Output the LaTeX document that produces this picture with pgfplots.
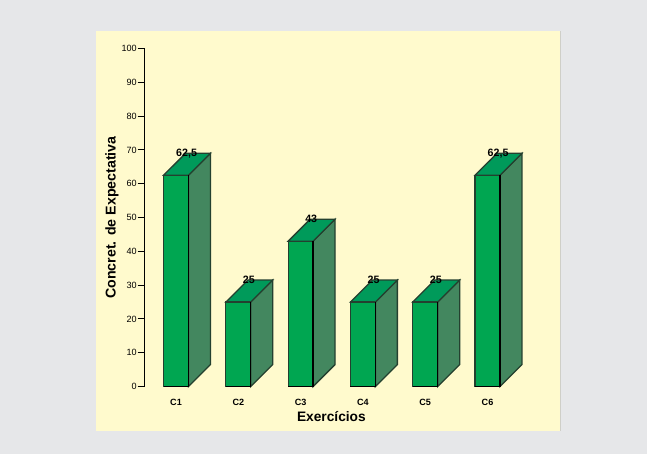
\documentclass[border=0pt]{standalone}
\usepackage{pgfplots}
\pgfplotsset{compat=1.18}
\usepackage{fontspec}
\setmainfont{Liberation Sans}
\definecolor{pagegray}{HTML}{E6E7E9}
\definecolor{panelyellow}{HTML}{FFFACD}
\definecolor{paneledge}{HTML}{CFCFC8}
\definecolor{frontgreen}{HTML}{00A651}
\definecolor{topgreen}{HTML}{009A5A}
\definecolor{sidegreen}{HTML}{43875F}
\definecolor{edgegreen}{HTML}{24402F}
% one prism: left, right, back right, back left, height, back height
\newcommand{\prism}[6]{%
  \addplot[draw=edgegreen,line width=0.95pt,fill=sidegreen] coordinates {(#2,0) (#3,6.5) (#3,#6) (#2,#5)} --cycle;
  \addplot[draw=edgegreen,line width=0.95pt,fill=topgreen] coordinates {(#1,#5) (#2,#5) (#3,#6) (#4,#6)} --cycle;
  \addplot[draw=edgegreen,line width=0.95pt,fill=frontgreen] coordinates {(#1,0) (#2,0) (#2,#5) (#1,#5)} --cycle;
  \addplot[black,line width=0.95pt] coordinates {(#2,#5) (#2,0) (#1,0)};
}
\begin{document}
\begin{tikzpicture}[x=0.75pt,y=0.75pt]
\path[use as bounding box,fill=pagegray] (0,0) rectangle (647,454);
\fill[panelyellow] (96,23) rectangle (560,423);
\draw[paneledge,line width=0.75pt] (560.4,23) -- (560.4,423);
\begin{axis}[
  at={(108.375pt,50.6pt)},anchor=south west,
  scale only axis,
  width=289.04pt,height=253.5pt,
  xmin=-0.506,xmax=5.68,ymin=0,ymax=100,
  clip=false,
  axis y line=left,axis x line=bottom,
  x axis line style={draw=none,-},
  y axis line style={black,line width=0.85pt,-},
  xtick={0,1,2,3,4,5},
  xticklabels={C1,C2,C3,C4,C5,C6},
  ytick={0,10,...,100},
  tick align=outside,
  major tick length=5.25pt,
  ytick style={black,line width=0.75pt},
  xtick style={draw=none},
  tick label style={font=\fontsize{6.8pt}{8pt}\selectfont},
  xticklabel style={font=\fontsize{6.8pt}{8pt}\selectfont\bfseries,yshift=-0.5pt},
  yticklabel style={xshift=3pt},
  /pgf/number format/assume math mode=true,
  xlabel={\fontsize{10.3pt}{12pt}\selectfont\bfseries Exercícios},
  ylabel={\fontsize{10.65pt}{12pt}\selectfont\bfseries Concret. de Expectativa},
  xlabel style={at={(axis description cs:0.485,0)},anchor=center,yshift=-22.5pt},
  ylabel style={at={(axis description cs:0,0.5)},anchor=center,yshift=24.4pt},
]
\prism{-0.2}{0.2}{0.553}{0.153}{62.5}{69}
\prism{0.8}{1.2}{1.553}{1.153}{25}{31.5}
\prism{1.8}{2.2}{2.553}{2.153}{43}{49.5}
\prism{2.8}{3.2}{3.553}{3.153}{25}{31.5}
\prism{3.8}{4.2}{4.553}{4.153}{25}{31.5}
\prism{4.8}{5.2}{5.553}{5.153}{62.5}{69}
% value captions sit on the back edge of each top face
\addplot[draw=none,mark=none,
  nodes near coords,point meta=explicit symbolic,
  every node near coord/.style={anchor=center,font=\fontsize{8pt}{9pt}\selectfont\bfseries,black,inner sep=0pt}]
  coordinates {(0.17,69)[62,5] (1.17,31.5)[25] (2.17,49.5)[43] (3.17,31.5)[25] (4.17,31.5)[25] (5.17,69)[62,5]};
\end{axis}
\end{tikzpicture}
\end{document}
